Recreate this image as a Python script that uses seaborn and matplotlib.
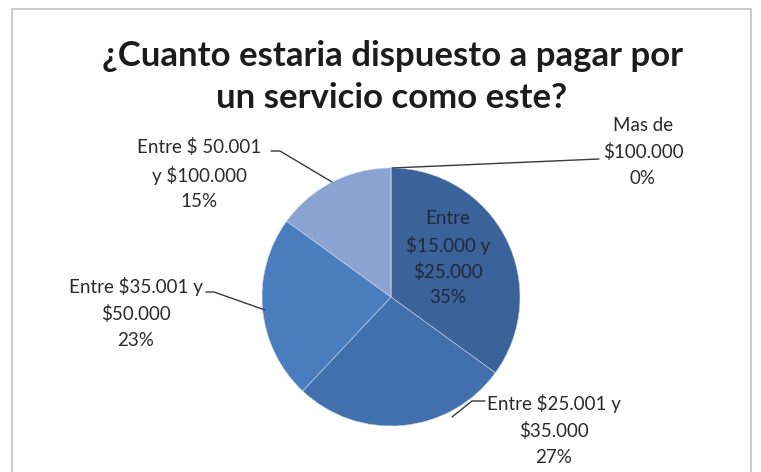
import matplotlib
matplotlib.use("Agg")
import matplotlib.pyplot as plt
from matplotlib.patches import Rectangle
import numpy as np
import seaborn as sns

# Survey answers: how much people would pay for the service
categories = [
    "Entre\n$15.000 y\n$25.000",
    "Entre $25.001 y\n$35.000",
    "Entre $35.001 y\n$50.000",
    "Entre $ 50.001\ny $100.000",
    "Mas de\n$100.000",
]
shares = [35, 27, 23, 15, 0]
slice_colors = ["#3b6399", "#4170ad", "#4a7dbd", "#8ba3d0", "#c6d3ea"]

title = "¿Cuanto estaria dispuesto a pagar por\nun servicio como este?"

sns.set_theme(style="white")
plt.rcParams["font.family"] = ["Lato", "DejaVu Sans"]

W, H = 761, 472
fig = plt.figure(figsize=(W / 100, H / 100), dpi=100)
fig.patch.set_facecolor("white")
ax = fig.add_axes([0, 0, 1, 1])


def Y(y):
    """Convert a top-down pixel row into the axes' upward y coordinate."""
    return H - y


cx, cy, r = 391, Y(297), 129
palette = sns.color_palette(slice_colors)
wedges, _ = ax.pie(
    shares,
    colors=palette,
    startangle=90,
    counterclock=False,
    center=(cx, cy),
    radius=r,
    wedgeprops=dict(edgecolor="#c9d5ea", linewidth=0.4),
)
ax.set_xlim(0, W)
ax.set_ylim(0, H)
ax.set_aspect("auto")
ax.axis("off")

# chart frame
fig.patches.append(Rectangle((12 / W, -0.02), (751 - 12) / W, (H - 9) / H + 0.02,
                             transform=fig.transFigure, fill=False,
                             edgecolor="#c4c4c4", linewidth=1.2, zorder=0))

ax.text(392, Y(77), title, ha="center", va="center", fontsize=25,
        fontweight="bold", color="#1c1c1c", linespacing=1.4)

label_color = "#2a2a2a"
label_size = 13.5
pct = [f"{v}%" for v in shares]

# label inside the largest slice
ax.text(448, Y(258), f"{categories[0]}\n{pct[0]}", ha="center", va="center",
        fontsize=label_size, color="#1d2a3c", linespacing=1.55)

# outside labels: (text centre, leader path ending on the rim)
outside = {
    1: ((554, 430), [(485, 401), (472, 401), (452, 417)]),
    2: ((136, 313), [(206, 292), (214, 292), (265, 310)]),
    3: ((199, 174), [(271, 151), (280, 151), (332, 182)]),
    4: ((643, 152), [(599, 159), (392, 168)]),
}
for i, ((tx, ty), path) in outside.items():
    ax.text(tx, Y(ty), f"{categories[i]}\n{pct[i]}", ha="center", va="center",
            fontsize=label_size, color=label_color, linespacing=1.62)
    xs, ys = zip(*path)
    ax.plot(xs, [Y(v) for v in ys], color="#3a3a3a", linewidth=1.0)

fig.savefig("out.png", dpi=100, facecolor="white")
